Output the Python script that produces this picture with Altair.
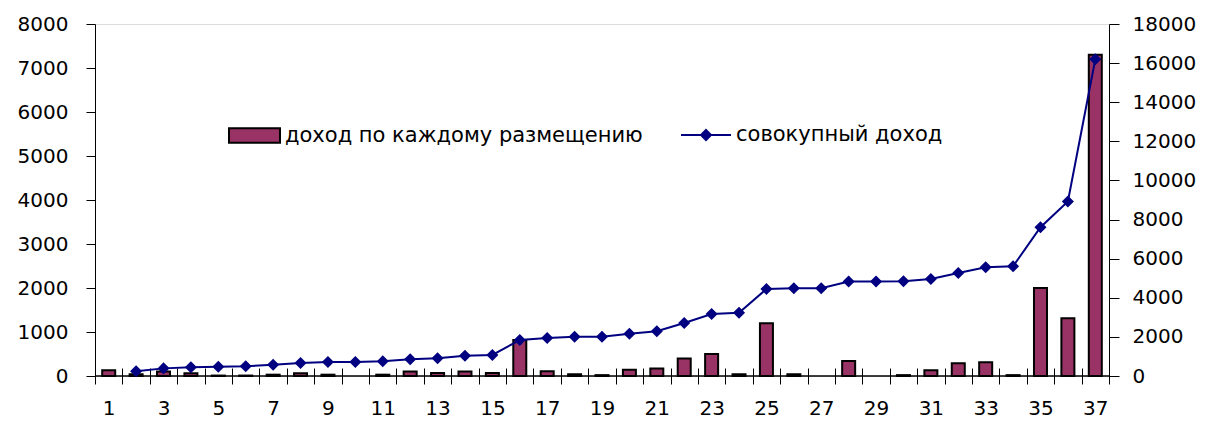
import altair as alt
import pandas as pd

placements = list(range(1, 38))
income = [130, 40, 100, 60, 10, 10, 30, 60, 30, 0, 30, 100, 70, 100, 70, 820,
          110, 40, 20, 140, 170, 400, 500, 40, 1200, 40, 0, 340, 0, 20, 130,
          290, 310, 20, 2000, 1310, 7300]
cumulative = [None, 240, 390, 445, 475, 495, 580, 665, 715, 715, 750, 855, 905,
              1040, 1075, 1840, 1940, 2010, 2010, 2160, 2285, 2710, 3170, 3235,
              4450, 4490, 4490, 4830, 4830, 4850, 4960, 5265, 5560, 5610, 7610,
              8920, 16200]
bar_name = "доход по каждому размещению"
line_name = "совокупный доход"

df = pd.DataFrame({
    "n": placements,
    "income": income,
    "cum": cumulative,
    "s1": [bar_name] * len(placements),
    "s2": [line_name] * len(placements),
})

FONT = "DejaVu Sans"

x_main = alt.X(
    "n:O",
    sort="ascending",
    scale=alt.Scale(paddingInner=0, paddingOuter=0),
    axis=alt.Axis(
        title=None, labelAngle=0, orient="bottom", domain=False,
        labelExpr="datum.value % 2 == 1 ? datum.label : ''",
        tickBand="extent", tickSize=16, offset=-8, labelPadding=14,
        tickColor="black",
        labelFont=FONT, labelFontSize=20, labelColor="black",
    ),
)

y_left = alt.Y(
    "income:Q",
    scale=alt.Scale(domain=[0, 8000], nice=False),
    axis=alt.Axis(
        title=None, values=list(range(0, 8001, 1000)), grid=False,
        format="d", tickSize=9, labelPadding=18, domainColor="black",
        tickColor="black", labelFont=FONT, labelFontSize=20,
        labelColor="black",
    ),
)

bars = alt.Chart(df).transform_filter("datum.income > 0").mark_bar(
    size=13, stroke="black", strokeWidth=2
).encode(
    x=x_main,
    y=y_left,
    fill=alt.Fill(
        "s1:N",
        scale=alt.Scale(domain=[bar_name], range=["#993366"]),
        legend=alt.Legend(
            title=None, orient="none", legendX=133, legendY=85,
            symbolType="M-1,-0.28H1V0.28H-1Z", symbolSize=2600,
            symbolStrokeColor="black", symbolStrokeWidth=2,
            labelFont=FONT, labelFontSize=21, labelColor="black",
            labelOffset=4, padding=0, labelLimit=0,
        ),
    ),
)

baseline = alt.Chart(df).transform_aggregate(cnt="count()").mark_rule(
    color="black", strokeWidth=1.5
).encode(y=alt.YDatum(0, scale=alt.Scale(domain=[0, 8000], nice=False), axis=None))

line = alt.Chart(df).mark_line(
    strokeWidth=2,
    point=alt.OverlayMarkDef(shape="diamond", size=85, filled=True, color="#000080"),
).encode(
    x=alt.X("n:O", sort="ascending"),
    y=alt.Y(
        "cum:Q",
        scale=alt.Scale(domain=[0, 18000], nice=False),
        axis=alt.Axis(
            title=None, orient="right", values=list(range(0, 18001, 2000)),
            grid=False, format="d", tickSize=10, labelPadding=13,
            domainColor="black", tickColor="black", labelFont=FONT,
            labelFontSize=20, labelColor="black",
        ),
    ),
    stroke=alt.Stroke(
        "s2:N",
        scale=alt.Scale(domain=[line_name], range=["#000080"]),
        legend=alt.Legend(
            title=None, orient="none", legendX=585, legendY=85,
            symbolType="M-1,0H1M0,-0.2L0.2,0L0,0.2L-0.2,0Z", symbolSize=2500,
            symbolStrokeColor="#000080", symbolFillColor="#000080",
            symbolStrokeWidth=2,
            labelFont=FONT, labelFontSize=21, labelColor="black",
            labelOffset=4, padding=0, labelLimit=0,
        ),
    ),
)

chart = alt.layer(bars, baseline, line).resolve_scale(
    y="independent", fill="independent", stroke="independent"
).properties(
    width=1014, height=352,
    padding={"left": 9, "top": 6, "right": 5, "bottom": 5},
).configure_view(stroke=None).configure(background="white")

chart.save("out.html", embed_options={"renderer": "svg", "actions": False})
